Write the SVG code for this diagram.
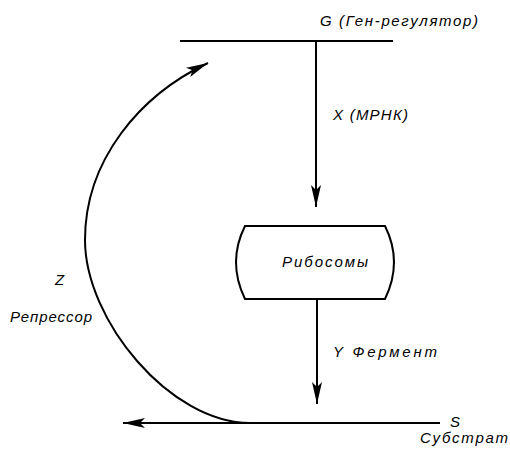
<svg xmlns="http://www.w3.org/2000/svg" width="510" height="450" viewBox="0 0 510 450">
<style>
.t{font-family:"Liberation Sans",Arial,sans-serif;font-style:italic;font-size:15px;fill:#000}
.l{fill:none;stroke:#000;stroke-width:2}
</style>
<defs>
<marker id="ah" markerUnits="userSpaceOnUse" markerWidth="24" markerHeight="12" refX="22" refY="5" orient="auto" viewBox="0 0 24 10">
<path d="M0,0 L22,5 L0,10 L5,5 Z" fill="#000"/>
</marker>
</defs>
<rect width="510" height="450" fill="#fff"/>
<g id="gene">
<line class="l" x1="180" y1="41" x2="393" y2="41" stroke-width="2.5"/>
<text class="t" x="320" y="26" textLength="158" lengthAdjust="spacing">G (Ген-регулятор)</text>
</g>
<g id="ribosome">
<path class="l" d="M245,226 L385,226 Q403,262 385,299 L245,299 Q227,262 245,226 Z"/>
<text class="t" x="282" y="267" textLength="86" lengthAdjust="spacing">Рибосомы</text>
</g>
<g id="substrate">
<text class="t" x="450" y="427">S</text>
<text class="t" x="420" y="443" textLength="88" lengthAdjust="spacing">Субстрат</text>
</g>
<g id="connectors">
<line class="l" x1="316" y1="41" x2="316" y2="207" marker-end="url(#ah)"/>
<text class="t" x="333" y="120" textLength="75" lengthAdjust="spacing">X (МРНК)</text>
<line class="l" x1="317" y1="299" x2="317" y2="404" marker-end="url(#ah)"/>
<text class="t" x="333" y="357" textLength="104" lengthAdjust="spacing">Y Фермент</text>
<line class="l" x1="440" y1="423" x2="123" y2="423" stroke-width="2.5" marker-end="url(#ah)"/>
<path class="l" d="M250,423 C170,423 85,320 85,240 C85,160 140,95 208,63" marker-end="url(#ah)"/>
<text class="t" x="55" y="285">Z</text>
<text class="t" x="10" y="322" textLength="82" lengthAdjust="spacing">Репрессор</text>
</g>
</svg>
